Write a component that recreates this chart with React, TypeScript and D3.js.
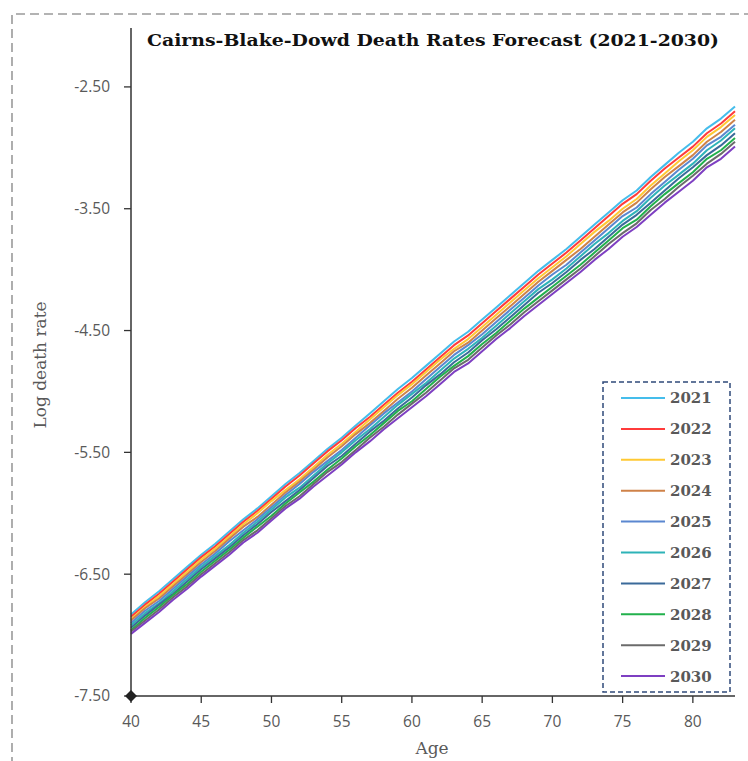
import React from "react";
import * as d3 from "d3";

const ages: number[] = d3.range(40, 84);
const years: string[] = ["2021", "2022", "2023", "2024", "2025", "2026", "2027", "2028", "2029", "2030"];
const yTicks: number[] = [-7.5, -6.5, -5.5, -4.5, -3.5, -2.5];
const xTicks: number[] = [40, 45, 50, 55, 60, 65, 70, 75, 80];

const y2021 = [-6.83,-6.73,-6.64,-6.54,-6.44,-6.34,-6.25,-6.15,-6.05,-5.96,-5.86,-5.76,-5.67,-5.57,-5.47,-5.38,-5.28,-5.18,-5.08,-4.98,-4.89,-4.79,-4.69,-4.59,-4.51,-4.41,-4.31,-4.21,-4.11,-4.01,-3.92,-3.83,-3.73,-3.63,-3.53,-3.43,-3.35,-3.24,-3.14,-3.04,-2.95,-2.84,-2.76,-2.66];
const y2022 = [-6.85,-6.75,-6.66,-6.56,-6.46,-6.36,-6.27,-6.17,-6.07,-5.98,-5.88,-5.78,-5.69,-5.59,-5.49,-5.40,-5.30,-5.21,-5.11,-5.01,-4.92,-4.82,-4.72,-4.62,-4.54,-4.44,-4.34,-4.24,-4.14,-4.04,-3.95,-3.86,-3.76,-3.66,-3.56,-3.46,-3.38,-3.27,-3.17,-3.08,-2.99,-2.88,-2.80,-2.70];
const y2023 = [-6.87,-6.77,-6.68,-6.58,-6.48,-6.38,-6.29,-6.19,-6.09,-6.00,-5.90,-5.81,-5.72,-5.62,-5.52,-5.43,-5.33,-5.23,-5.13,-5.03,-4.94,-4.84,-4.74,-4.65,-4.57,-4.47,-4.37,-4.27,-4.17,-4.07,-3.98,-3.89,-3.79,-3.69,-3.60,-3.50,-3.42,-3.31,-3.21,-3.11,-3.02,-2.91,-2.83,-2.73];
const y2024 = [-6.88,-6.78,-6.70,-6.60,-6.50,-6.40,-6.31,-6.21,-6.11,-6.03,-5.93,-5.83,-5.74,-5.64,-5.54,-5.45,-5.35,-5.26,-5.16,-5.06,-4.97,-4.87,-4.77,-4.67,-4.60,-4.50,-4.40,-4.30,-4.20,-4.10,-4.01,-3.92,-3.83,-3.73,-3.63,-3.53,-3.45,-3.34,-3.24,-3.15,-3.06,-2.95,-2.87,-2.77];
const y2025 = [-6.90,-6.80,-6.72,-6.62,-6.52,-6.42,-6.33,-6.23,-6.14,-6.05,-5.95,-5.85,-5.76,-5.66,-5.57,-5.48,-5.38,-5.28,-5.18,-5.09,-5.00,-4.90,-4.80,-4.70,-4.62,-4.53,-4.43,-4.33,-4.23,-4.13,-4.04,-3.96,-3.86,-3.76,-3.66,-3.56,-3.49,-3.38,-3.28,-3.18,-3.09,-2.98,-2.91,-2.81];
const y2026 = [-6.92,-6.82,-6.74,-6.64,-6.54,-6.44,-6.35,-6.26,-6.16,-6.07,-5.97,-5.87,-5.79,-5.69,-5.59,-5.50,-5.40,-5.31,-5.21,-5.11,-5.02,-4.93,-4.83,-4.73,-4.65,-4.56,-4.46,-4.36,-4.26,-4.16,-4.08,-3.99,-3.89,-3.79,-3.70,-3.60,-3.52,-3.41,-3.31,-3.22,-3.13,-3.02,-2.94,-2.84];
const y2027 = [-6.94,-6.84,-6.75,-6.66,-6.56,-6.46,-6.37,-6.28,-6.18,-6.09,-5.99,-5.90,-5.81,-5.71,-5.61,-5.53,-5.43,-5.33,-5.24,-5.14,-5.05,-4.95,-4.86,-4.76,-4.68,-4.58,-4.49,-4.39,-4.29,-4.19,-4.11,-4.02,-3.92,-3.83,-3.73,-3.63,-3.55,-3.45,-3.35,-3.25,-3.16,-3.06,-2.98,-2.88];
const y2028 = [-6.96,-6.86,-6.77,-6.67,-6.58,-6.48,-6.39,-6.30,-6.20,-6.11,-6.02,-5.92,-5.83,-5.74,-5.64,-5.55,-5.45,-5.36,-5.26,-5.16,-5.08,-4.98,-4.88,-4.79,-4.71,-4.61,-4.52,-4.42,-4.32,-4.23,-4.14,-4.05,-3.96,-3.86,-3.76,-3.66,-3.59,-3.48,-3.38,-3.29,-3.20,-3.09,-3.02,-2.92];
const y2029 = [-6.97,-6.88,-6.79,-6.69,-6.60,-6.50,-6.41,-6.32,-6.22,-6.14,-6.04,-5.94,-5.86,-5.76,-5.66,-5.58,-5.48,-5.38,-5.29,-5.19,-5.10,-5.01,-4.91,-4.81,-4.74,-4.64,-4.54,-4.45,-4.35,-4.26,-4.17,-4.08,-3.99,-3.89,-3.79,-3.70,-3.62,-3.51,-3.42,-3.32,-3.23,-3.13,-3.05,-2.95];
const y2030 = [-6.99,-6.90,-6.81,-6.71,-6.62,-6.52,-6.43,-6.34,-6.24,-6.16,-6.06,-5.96,-5.88,-5.78,-5.69,-5.60,-5.50,-5.41,-5.31,-5.22,-5.13,-5.04,-4.94,-4.84,-4.77,-4.67,-4.57,-4.48,-4.38,-4.29,-4.20,-4.11,-4.02,-3.92,-3.83,-3.73,-3.65,-3.55,-3.45,-3.36,-3.27,-3.16,-3.09,-2.99];

const seriesValues = [y2021, y2022, y2023, y2024, y2025, y2026, y2027, y2028, y2029, y2030];
const colors = ["#45BDEB", "#FF3B3B", "#FFC933", "#CF8249", "#5B87D0", "#2EB3B8", "#3B6A9A", "#22B14C", "#6B6B6B", "#7E3FC2"];

const W = 748;
const H = 761;
const x0 = 131, x1 = 735, yB = 696, yT = 26;

export default function App() {
  const x = d3.scaleLinear().domain([40, 83]).range([x0, x1]);
  const y = d3.scaleLinear().domain([-7.5, -2.0]).range([yB, yT]);
  const line = d3.line<number>().x((_, i) => x(ages[i])).y((d) => y(d));
  const serif = "'DejaVu Serif', serif";
  const sans = "'Open Sans', sans-serif";
  const gray = "#595959";
  const legX = 603, legY = 382, legW = 127, legH = 310;
  const rowH = 30.9;
  return (
    <svg width={W} height={H} style={{ position: "absolute", left: 0, top: 0, display: "block" }}>
      <rect width={W} height={H} fill="#fff" />
      <path d={`M12,${H + 5} L12,14 L${W + 5},14`} fill="none" stroke="#9A9A9A" strokeWidth={1.6} strokeDasharray="9 5" />
      <text x={433} y={46} textAnchor="middle" fontFamily={serif} fontWeight="bold" fontSize={17.5} fill="#111" textLength={572} lengthAdjust="spacingAndGlyphs">
        Cairns-Blake-Dowd Death Rates Forecast (2021-2030)
      </text>
      {seriesValues.map((vals, k) => (
        <path key={years[k]} d={line(vals) || ""} fill="none" stroke={colors[k]} strokeWidth={2} strokeLinejoin="round" />
      ))}
      <line x1={x0} x2={x0} y1={28} y2={yB} stroke="#333" strokeWidth={1.5} />
      <line x1={x0} x2={x1} y1={yB} y2={yB} stroke="#333" strokeWidth={1.5} />
      {yTicks.map((t) => (
        <g key={t}>
          <line x1={x0 - 7} x2={x0} y1={y(t)} y2={y(t)} stroke="#333" strokeWidth={1.3} />
          <text x={110} y={y(t)} dy="0.35em" textAnchor="end" fontFamily={sans} fontSize={15.5} fill={gray}>
            {t.toFixed(2)}
          </text>
        </g>
      ))}
      {xTicks.map((t) => (
        <g key={t}>
          <line x1={x(t)} x2={x(t)} y1={yB} y2={yB + 7} stroke="#333" strokeWidth={1.3} />
          <text x={x(t)} y={727} textAnchor="middle" fontFamily={sans} fontSize={15.5} fill={gray}>
            {t}
          </text>
        </g>
      ))}
      <path d={`M${x0},${yB - 6} L${x0 + 6},${yB} L${x0},${yB + 6} L${x0 - 6},${yB} Z`} fill="#222" />
      <text x={432} y={754} textAnchor="middle" fontFamily={serif} fontSize={17} fill={gray}>Age</text>
      <text transform={`translate(46,365) rotate(-90)`} textAnchor="middle" fontFamily={serif} fontSize={17} fill={gray}>Log death rate</text>
      <rect x={legX} y={legY} width={legW} height={legH} fill="#fff" stroke="#2F4A7A" strokeWidth={1.5} strokeDasharray="5 3" />
      {years.map((yr, k) => {
        const cy = legY + 16 + k * rowH;
        return (
          <g key={yr}>
            <line x1={621} x2={665} y1={cy} y2={cy} stroke={colors[k]} strokeWidth={2} />
            <text x={670} y={cy} dy="0.36em" fontFamily={serif} fontWeight="bold" fontSize={15} fill={gray}>{yr}</text>
          </g>
        );
      })}
    </svg>
  );
}
